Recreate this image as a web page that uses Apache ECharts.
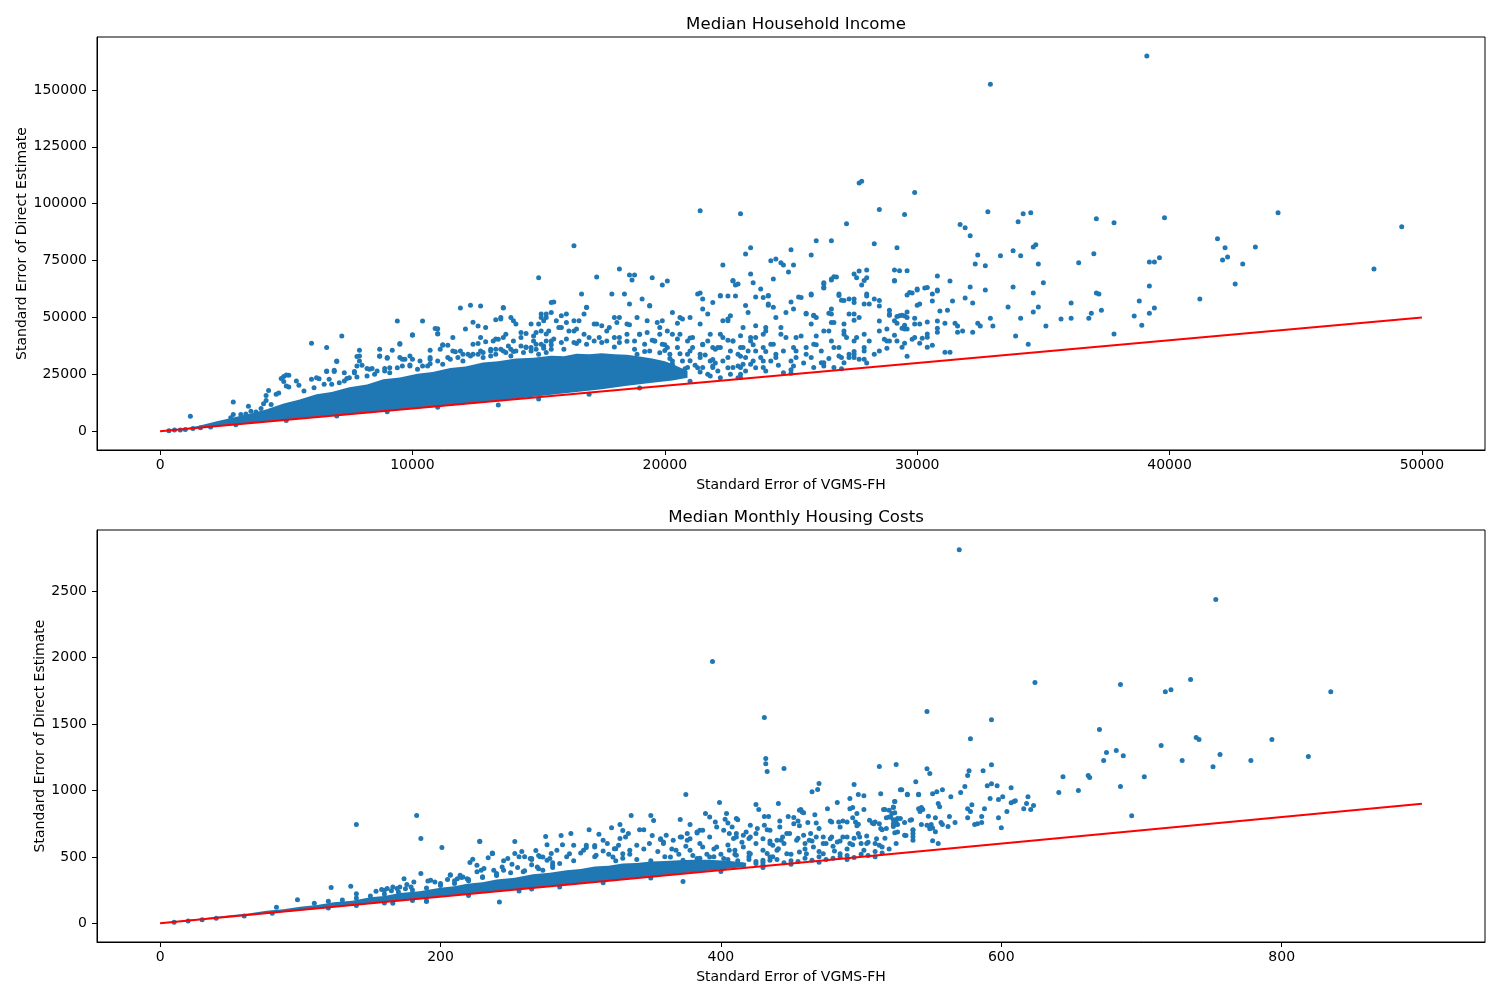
<!DOCTYPE html>
<html><head><meta charset="utf-8">
<script src="https://cdn.jsdelivr.net/npm/echarts@6/dist/echarts.min.js"></script>
<style>html,body{margin:0;padding:0;background:#fff}#c{width:1500px;height:1000px}</style>
</head><body><div id="c"></div>
<script>
// ---------- Chart 1: Median Household Income ----------
const incomeXTicks = [0, 10000, 20000, 30000, 40000, 50000];
const incomeYTicks = [0, 25000, 50000, 75000, 100000, 125000, 150000];
const incomeLine = [[0, 0], [50000, 50000]];
// solid dense core (upper boundary then lower boundary)
const incomeCoreUpper = [[800,900],[1500,2300],[2250,4400],[2900,6000],[3600,7800],[4200,9500],[4900,12200],[5500,13800],[6200,16200],[6800,17200],[7500,19300],[8200,20500],[8850,22800],[9500,23600],[10200,25300],[10800,26000],[11500,27800],[12100,28500],[12800,30200],[13400,30800],[14100,32000],[14800,32300],[15500,33200],[16000,33000],[16500,34000],[17000,33800],[17500,34300],[18000,33800],[18500,33600],[19000,32800],[19500,32000],[20000,30800],[20300,29500],[20900,26500]];
const incomeCoreLower = [[20900,23500],[20300,22300],[19500,21300],[18500,20000],[17500,18500],[16500,17200],[15500,16000],[14100,14300],[12800,12600],[11500,11300],[10200,10000],[8850,8700],[7500,7400],[6200,6100],[4900,4800],[3600,3500],[2250,2150],[1500,1400],[800,700]];
const incomePoints = [
[28500,97400],[39100,164900],[32900,152500],[29900,104900],[29500,95200],[32800,96500],[31700,90800],[31900,89400],[32100,85900],[34000,92100],[34200,95600],[34500,96000],[29200,80600],[37100,93400],[37800,91600],[39800,93800],[44300,96000],[49200,89900],[41900,84600],[42200,80600],[42100,75300],[42300,76600],[43400,81000],[42900,73500],[42600,64700],[48100,71300],[41200,58100],[39200,74400],[39400,74400],[39600,76200],[39200,63800],[38800,57200],[39400,54100],[39200,51900],[38600,50600],[38900,46600],[37800,42700],[37000,78000],[36400,74000],[37100,60800],[37200,60300],[37300,53200],[36900,51900],[36800,49700],[36100,56300],[36100,49700],[35700,49300],[35100,46200],[34800,73500],[34600,81000],[34700,81900],[35000,65200],[34600,60800],[34800,54600],[34600,52400],[34400,38200],[33900,41800],[34100,49700],[33800,63400],[33800,79300],[34100,77100],[33300,77100],[33600,54600],[33000,46200],[32900,49700],[32700,62100],[32700,72700],[32300,73500],[32400,77500],[32100,63400],[32200,56300],[31900,58500],[32200,43500],[32400,47500],[32500,46200],[31300,66000],[31400,57200],[31200,53200],[30900,52800],[31100,47500],[31500,47500],[31600,46200],[31600,43500],[31800,44000],[31100,34700],[31300,34700],[30800,68200],[30800,62100],[30800,61600],[30600,60300],[30600,57200],[30300,62900],[30000,62100],[29800,60800],[29600,59900],[30000,55400],[29900,49700],[29600,52400],[30100,47100],[30400,48000],[30800,48400],[30800,45300],[30800,43500],[30400,42700],[30400,41300],[30200,40900],[30100,38700],[30600,37800],[30400,36900],[29800,40400],[29600,44900],[29500,46600],[29400,45300],[29200,47500],[29200,50400],[29400,51000],[29500,50600],[28900,53200],[28900,51000],[28500,55000],[28800,44900],[29100,42200],[29200,39600],[29500,38700],[29400,36900],[29600,32900],[28800,36500],[28700,40400],[29100,70900],[29300,70500],[29600,70500],[29100,66000],[28500,48400],
[27700,109100],[27800,109900],[21400,96900],[23000,95600],[27200,91200],[26000,83700],[26600,83700],[28300,82400],[16400,81500],[23400,80600],[23200,77900],[25000,79700],[25800,77500],[24200,74900],[24400,75700],[24600,74000],[24700,73100],[25100,73100],[24900,70000],[22300,73100],[23400,69100],[24300,66900],[15000,67400],[18200,71300],[18600,68700],[18800,68700],[18700,66500],[17300,67800],[19500,67400],[20100,66000],[19900,64300],[22700,66000],[22800,64300],[23500,65200],[23800,62500],[27500,69100],[27700,70400],[28000,70900],[27600,67400],[28000,67400],[27800,64300],[26300,65200],[26300,62900],[26600,66500],[26800,67800],[25800,59900],[25300,59000],[16700,60300],[17900,60300],[18400,60300],[19100,58100],[19400,55000],[15600,56800],[16900,54500],[13600,54100],[12700,55000],[21400,60700],[21500,58100],[22200,59400],[22500,59400],[22800,59400],[23600,59000],[24100,59400],[25000,56800],[24100,55400],[24300,54500],[26900,60300],[27000,57600],[27300,58100],[27500,58100],[28000,59400],[28300,58100],[28100,55900],[27900,55900],[26600,53700],[26500,51900],[25900,51000],[26000,50000],[25600,51900],[27300,51500],[27500,48800],[27700,50000],[27100,47100],[26600,47800],[26300,44100],[27100,42600],[27200,41200],[27600,41200],[27900,36800],[26900,33100],[27700,31600],[26300,28700],[25900,38200],[25200,41200],[25200,32400],[26200,30100],[25100,36800],[24600,42600],[24300,38200],[24400,33800],[24000,45600],[23600,41200],[23900,28000],[24700,25700],[23300,35300],[23100,45600],[22700,39700],[23000,25000],[22500,48500],[22200,42600],[21900,36800],[21800,24300],[21400,47100],[21100,41200],[20900,33800],[20600,50000],[20300,42600],[20100,36800],[19800,45600],[19600,39700],[19300,48500],[19000,42600],[18900,33800],[18500,47100],[18200,41200],[18000,50000],[17700,44100],[17300,47100],[17000,41200],[16600,48500],[16400,44100],[16100,51500],[15900,45600],[15300,50000],[15100,44100],[14700,47100],[14300,41200],[14000,48500],[13700,42600],[13500,50000],[13200,39700],[12900,45600],[12700,41200],
[20900,28000],[21400,33800],[21900,28000],[22500,32400],[22700,28000],[23500,30900],[23900,36800],[24200,30900],[25000,30900],[25600,33800],[25900,28000],[26700,36800],[27300,33800],[28100,39700],[28500,44100],[28300,33800],[28800,39700],[29100,48500],[26700,28000],[20300,30900],[20100,24900],[19600,28000],[19300,23500],[21100,36800],[21700,39700],[22200,36800],[23000,36800],[23400,39700],
[13500,36000],[14500,37000],[15500,38000],[16500,38500],[17500,39000],[18500,39500],[19500,40000],[20500,40500],[14000,35000],[16000,36000],[18000,37000],[20000,38000],[21500,38000],[21000,41000],[22000,36000],[22500,40000],[23000,33000],[23500,38000],[24000,35000],[22000,30000],[21500,28000],[23000,28000],[24500,29000],[25500,30000],[26500,32000],[27500,35000],[28000,30000],[25000,27000],[26000,38000],[24000,44000],[23000,42000],
[1200,6600],[2900,12800],[2900,7400],[3500,11000],[4100,12100],[4300,17900],[4200,15700],[4800,23200],[5100,24600],[5100,19400],[4700,16800],[5500,20200],[6000,38700],[6000,22800],[6300,23100],[6600,36800],[6600,26200],[7000,30900],[6900,26800],[7200,41800],[7300,25700],[7700,25700],[7800,32800],[7900,35600],[7900,30900],[8000,29000],[8400,27600],[8700,32900],[8700,36000],[9000,32100],[9200,35600],[9400,48400],[9500,38200],[9500,32400],[9700,31600],[10000,42200],[10000,31600],[10400,48400],[10300,30900],[10700,35600],[11000,45000],[11000,42900],[11200,37800],[11400,37800],[11600,41200],[11600,35300],[11900,54100],[12300,55400],[12100,44900],[12400,47900],[12600,46200],[12400,38200],[12600,38500],[12900,39300],[13300,49000],[13300,40500],[10700,32400],[11400,32400],[12000,33800],[12700,35300],[13100,36000],[5700,17700],[6100,19100],[6800,20600],[7300,22100],[7500,23500],[8500,25000],[8900,26500],[9100,27900],[9900,28700],[10600,28700],[11000,30900],[11800,32400],[12400,33800],
[350,200],[570,500],[800,500],[1000,800],[1300,1200],[1600,1500],[2000,1900],
[13400,11500],[15000,14200],[17000,16200],[19000,19000],[21000,22000],[23000,23500],[25000,25500],[27000,27500],[3000,2800],[5000,4700],[7000,6700],[9000,8600],[11000,10500]
];
const incomeFringe = [
[4900,24100],[5000,24700],[5400,22100],[4900,21800],[5000,19900],[4600,16200],[4200,13500],[4400,11800],[4000,10000],[3600,8800],[3200,7400],[2800,5900],[3400,7600],[3800,8500],
[7000,30600],[6600,26500],[6900,26200],[7700,26200],[7900,33100],[7800,28700],[8200,27600],[8300,27200],[8700,33100],[9000,32400],[9500,38500],[9600,31600],[9900,33100],[10000,42400],[10700,31600],[10900,45200],[11000,42700],[11100,36000],[11200,38000],[11700,34900],[13600,54400],[13500,49300],[13900,50000],[14100,47100],[13400,40400],[13600,41200],[13800,37500],[14000,39700],[14300,43400],[14500,43000],[14800,41900],[15000,47100],[15100,50000],[15300,51500],[14900,38200],[15200,37500],[14300,37500],[13100,35300],[13300,36000],[13700,34600],[11900,35300],[12200,33800],[12800,34600],[13900,33100],[14500,36800],[14700,35300],[15000,33800],[15300,34600],
[6200,23500],[6500,20600],[6700,22800],[7100,21300],[7400,23200],[7800,23800],[8200,24300],[8600,26500],[8900,27600],[9100,25700],[9400,27900],[9600,28700],[9900,29100],[10200,27200],[10400,28700],[10700,29700],[11200,29400],[11500,31600],[12000,30900],[12300,33100],[12600,33800],[12800,32400],[13100,33100],[13300,33800],[13600,35300],[13900,36000],[14100,35300],[14400,34600],[14700,36800],[14900,36000],[15200,36500],[15500,36000],[15500,39700],[15300,42700],
[15500,56600],[18600,55900],[19400,55200],[16800,51500],[16900,54400],[15100,51500],[15500,52200],[15900,50700],[16100,47800],[16400,48500],[15200,48500],[15700,48500],[14900,43400],[15400,44100],[15800,45600],[16200,44100],[16500,44900],[16800,42600],[17200,47100],[17500,46300],[17800,45600],[18100,47800],[18200,50000],[18600,46800],[18900,50000],[19300,43400],[19700,47800],[19900,48500],[20300,52200],[20100,44100],[20500,47400],[20700,49300],[21000,50000],[21300,60300],[21500,53700],[21700,51500],[21900,56600],[22200,59600],[22300,48500],[22500,49300],[22600,50700],[22700,66200],[22900,64700],[23200,55200],[23300,52200],[23900,58800],[24100,59600],[24100,55900],[24400,50000],[24800,52200],[24600,45600],[24800,41200],[25100,53700],[25400,58800],[25800,60300],[25600,51500],[25900,50700],[25800,47100],[26300,64700],[26300,63200],[26600,66900],[26700,67900],[26600,51500],[26700,47800],[26900,59600],[27100,57400],[27500,51500],[27500,56600],[27900,66200],[28000,60300],[28500,57400],[29100,66200],[29700,61000],[30000,62500],[30400,63200],[30100,55900],[28900,51500],[29300,50700],[29600,50000],[29500,44900],[29900,41200],[29900,47100],[28900,39700],[28500,35300],[27900,35300],[27900,42600],[27500,39700],[27100,44100],[26900,36800],[27300,32400],[26600,39700],[26500,44100],[26000,41900],[26200,35300],[25600,36800],[25400,41900],[25200,35300],[25800,32400],[26300,30100],[27000,32400],[27100,30100],[27500,32400],[27900,31600],[27500,33800],[25100,28700],[24400,32400],[24700,35300],[24200,38200],[23900,42600],[23600,46300],[23400,41200],[23100,36800],[23200,32400],[23600,35300],[23900,30900],[24000,26500],[23600,27900],[23100,29400],[22900,33800],[22700,39700],[22300,41200],[22100,36800],[21800,42600],[21500,38200],[21400,32400],[21800,30900],[22100,26500],[22300,30900],[22600,35300],[21300,27900],[21000,35300],[20900,39700],[20600,42600],[20500,36800],[20700,30900],[20300,29400],[20200,33800],[19900,38200],[19800,42600],[19600,39700],[19400,35300],[19200,38200],[19000,42600],[18800,39700],[18500,42600],[18200,39000],[18000,41200],[17700,39700],[17400,41200],[17200,39700],[16900,38200],[16600,39700],[16400,39000],[16100,40500],[15900,39000],[15600,40500],[15300,39700],[15100,38200],[14800,39700],
[22900,23500],[23200,26500],[22600,25000],[22200,23500],[21700,25000],[21900,28700],[22500,27900],[22900,28700],[23400,29400],[23800,32400],
[19800,34500],[20200,32000],[20600,34000],[21000,31000],[21200,29000],[21600,33500],[21900,31500],[20800,27500],[21400,26000],[20000,35500],[19200,35000],[18800,36000]
];

// ---------- Chart 2: Median Monthly Housing Costs ----------
const housingXTicks = [0, 200, 400, 600, 800];
const housingYTicks = [0, 500, 1000, 1500, 2000, 2500];
const housingLine = [[0, 0], [900, 900]];
const housingCoreUpper = [[0,2],[25,30],[50,60],[63,74],[76,95],[88,106],[100,125],[112,138],[124,158],[137,170],[150,195],[160,205],[171,228],[185,242],[200,268],[210,278],[219,298],[230,308],[240,330],[253,342],[266,370],[278,380],[290,400],[300,408],[310,428],[320,434],[330,450],[340,453],[350,465],[360,468],[370,475],[380,478],[390,478],[405,470],[418,455]];
const housingCoreLower = [[418,425],[400,405],[350,352],[300,300],[250,250],[200,198],[150,147],[100,97],[50,48],[0,0]];
const housingPoints = [
[570,2813],[753,2437],[624,1812],[685,1797],[717,1744],[721,1759],[735,1835],[835,1744],[547,1594],[593,1533],[578,1390],[670,1458],[675,1285],[682,1300],[673,1225],[687,1262],[714,1338],[739,1398],[741,1383],[793,1383],[729,1225],[756,1270],[751,1179],[778,1225],[819,1255],[702,1104],[685,1029],[693,810],[644,1104],[641,984],[655,999],[662,1112],[663,1097],[547,1164],[549,1127],[577,1149],[576,1112],[587,1149],[593,1194],[590,1036],[593,1051],[597,1036],[607,1021],[574,1029],[571,984],[579,893],[576,863],[578,841],[576,795],[581,743],[583,750],[586,758],[586,803],[588,863],[592,939],[598,931],[601,953],[604,841],[598,795],[600,720],[607,908],[609,916],[610,923],[616,863],[618,901],[619,953],[621,856],[623,886],[564,953],[558,1006],[554,991],[551,976],[539,1066],[529,1006],[533,968],[541,968],[555,901],[556,878],[553,795],[563,803],[557,758],[558,743],[562,728],[567,758],[553,690],[550,743],[549,728],[551,718],[549,712],[551,622],[555,600],[543,743],[542,841],[544,856],[541,863],[543,871],[536,780],[537,705],[537,652],[537,675],[532,660],[531,758],[524,682],[524,916],[523,871],[524,833],[521,800],[523,780],[523,728],[526,788],[526,743],[525,750],[516,856],[515,705],[513,750],
[394,1970],[431,1549],[432,1240],[432,1202],[433,1142],[445,1165],[513,1180],[525,1195],[375,969],[399,909],[465,991],[469,1007],[470,1052],[495,1044],[498,969],[502,961],[514,976],[492,939],[483,909],[524,916],[441,901],[425,894],[427,856],[431,803],[434,803],[452,796],[448,803],[457,856],[459,833],[476,863],[467,818],[492,863],[494,871],[502,856],[497,826],[496,763],[497,735],[508,755],[510,763],[517,856],[522,826],[520,801],[525,776],[524,743],[526,688],[517,640],[515,575],[514,713],[498,675],[504,658],[494,592],[490,650],[485,725],[479,763],[484,763],[479,650],[481,545],[473,650],[470,713],[464,675],[460,600],[466,575],[456,537],[462,758],[456,735],[452,750],[447,675],[442,725],[443,625],[437,588],[433,525],[430,474],[437,500],[435,700],[431,738],[426,713],[420,638],[418,688],[421,738],[411,675],[409,638],[411,788],[404,826],[403,783],[405,755],[392,801],[389,826],[396,763],[383,680],[385,700],[378,743],[371,781],[371,650],[376,625],[352,773],[350,811],[336,811],[342,705],[345,705],[351,660],[357,630],[359,612],[328,743],[322,720],[330,698],[334,675],[328,638],[313,670],[310,585],[293,675],[286,660],[275,653],[276,592],[287,592],[253,615],[258,540],[268,547],[248,487],[237,525],[228,615],[253,525],[279,525],[304,570],[316,545],[325,562],[373,314],[316,306],[285,274],[256,243],
[245,470],[260,500],[265,480],[270,510],[280,455],[290,500],[295,470],[300,530],[310,500],[320,520],[335,520],[345,560],[355,540],[365,560],[375,580],[385,600],[395,560],[405,590],[415,610],[425,600],[435,620],[445,600],[455,640],[465,620],[475,600],[485,620],[495,640],[505,610],[440,550],[450,520],[460,560],[470,540],[480,580],[490,560],[500,600],[420,530],[410,520],[390,520],[380,510],[430,460],[440,480],[450,470],[460,490],[470,500],[480,490],[490,510],[500,520],[510,540],[520,560],[510,600],[430,440],[425,450],[445,455],[455,465],[465,475],[475,480],[485,500],[495,495],[505,510],[515,530],[420,500],[360,500],[370,520],[340,480],[330,490],[325,470],[350,470],[400,520],[410,550],[395,500],[385,490],
[110,150],[120,165],[130,175],[140,190],[150,205],[160,220],[170,235],[180,250],[190,265],[200,285],[210,300],[220,320],[230,345],[240,360],[205,330],[215,345],[175,260],[165,245],
[140,743],[183,811],[186,638],[201,570],[228,617],[221,457],[223,482],[234,494],[237,525],[122,269],[136,279],[98,178],[174,336],[186,374],[140,223],[154,241],[83,120],[226,437],[231,412],[240,374],[214,361],[207,361],[193,324],[179,274],[169,261],[160,249],[219,336],
[10,8],[20,18],[30,27],[40,37],[60,55],[80,76],[120,115],[140,133],[160,152],[180,172],[350,340],[400,390],[430,420],[450,445],[470,460],[490,480],[510,500],[220,210],[265,258],[166,150],[190,170]
];
const housingFringe = [
[158,254],[162,261],[166,274],[171,274],[176,291],[181,311],[191,319],[196,311],[200,299],[207,366],[212,336],[216,349],[226,387],[229,399],[237,530],[238,399],[244,424],[251,444],[256,500],[265,487],[271,500],[276,474],[280,437],[273,399],[259,387],[242,161],[190,163],[210,320],[220,330],[230,350],[240,365],[250,380],[260,395],[270,410],[245,400],[255,420],[265,440],[280,420],[285,450],
[528,1006],[533,971],[541,971],[456,851],[458,838],[523,876],[520,851],[518,795],[408,725],[412,780],[433,705],[442,770],[455,770],[468,755],[478,770],[487,770],[490,763],[494,795],[498,745],[506,775],[509,750],[518,713],[523,750],[528,788],[535,775],[537,700],[531,662],[547,738],[548,805],[306,705],[316,625],[310,575],[319,600],[324,562],[327,587],[332,650],[357,637],[361,662],[366,625],[372,650],[376,675],[378,637],[383,688],[387,700],[392,650],[397,725],[402,700],[406,675],[411,650],[416,662],[421,650],[425,675],[430,637],[435,600],[440,625],[444,650],[449,675],[454,625],[459,662],[463,625],[468,650],[473,600],[478,637],[483,612],[487,650],[492,600],[499,650],[504,600],[511,637],[473,524],[461,524],[435,499],[447,524],[416,575],[406,549],[397,575],[387,575],[378,549],[368,549],[359,600],[349,600],[340,587],[335,549],[330,524],[323,499],[311,512],[302,549],[292,524],[283,549],[273,499],[295,587],[304,587],[278,487],[264,487],[269,424],[364,499],[373,474],[383,487],[392,499],[402,487],[411,512],[421,524],[430,549],[441,562],[364,386],[485,524],[502,549],[513,587],[525,600],[537,625],
[412,470],[420,480],[415,440],[425,465],[435,475],[405,480]
];

const BLUE = '#1f77b4';
const FONT = 'DejaVu Sans';

function corePolygon(upper, lower, idx) {
  const pts = upper.concat(lower);
  return {
    type: 'custom', xAxisIndex: idx, yAxisIndex: idx, silent: true, clip: true, z: 1,
    data: [pts[0]],
    renderItem: function (params, api) {
      return { type: 'polygon', shape: { points: pts.map(p => api.coord(p)) }, style: { fill: BLUE } };
    }
  };
}

function makeX(idx, min, max, ticks) {
  return {
    gridIndex: idx, type: 'value', min: min, max: max,
    name: 'Standard Error of VGMS-FH', nameLocation: 'middle', nameGap: 28,
    nameTextStyle: { color: '#000', fontSize: 14, fontFamily: FONT },
    axisLine: { show: true, onZero: false, lineStyle: { color: '#000', width: 1 } },
    axisTick: { show: true, length: 5, lineStyle: { color: '#000', width: 1 }, customValues: ticks },
    axisLabel: { color: '#000', fontSize: 14, fontFamily: FONT, margin: 8, customValues: ticks, formatter: v => String(v) },
    splitLine: { show: false }
  };
}
function makeY(idx, min, max, ticks, gap) {
  return {
    gridIndex: idx, type: 'value', min: min, max: max,
    name: 'Standard Error of Direct Estimate', nameLocation: 'middle', nameGap: gap, nameMoveOverlap: false,
    nameTextStyle: { color: '#000', fontSize: 14, fontFamily: FONT },
    axisLine: { show: true, onZero: false, lineStyle: { color: '#000', width: 1 } },
    axisTick: { show: true, length: 5, lineStyle: { color: '#000', width: 1 }, customValues: ticks },
    axisLabel: { color: '#000', fontSize: 14, fontFamily: FONT, margin: 10, customValues: ticks, formatter: v => String(v) },
    splitLine: { show: false }
  };
}
function scatter(idx, data) {
  return { type: 'scatter', xAxisIndex: idx, yAxisIndex: idx, data: data, symbolSize: 5, itemStyle: { color: BLUE, opacity: 1 }, z: 2, silent: true };
}
function refLine(idx, data) {
  return { type: 'line', xAxisIndex: idx, yAxisIndex: idx, data: data, symbol: 'none', lineStyle: { color: '#ff0000', width: 2 }, z: 5, silent: true };
}

const chart = echarts.init(document.getElementById('c'), null, { renderer: 'canvas' });
chart.setOption({
  animation: false,
  backgroundColor: '#fff',
  textStyle: { fontFamily: FONT },
  title: [
    { text: 'Median Household Income', left: 791, top: 11, textAlign: 'center', textStyle: { fontSize: 16.6, fontWeight: 'normal', color: '#000', fontFamily: FONT } },
    { text: 'Median Monthly Housing Costs', left: 791, top: 504, textAlign: 'center', textStyle: { fontSize: 16.6, fontWeight: 'normal', color: '#000', fontFamily: FONT } }
  ],
  grid: [
    { left: 97, right: 15, top: 37, height: 413, show: true, borderColor: '#000', borderWidth: 1, backgroundColor: 'transparent' },
    { left: 97, right: 15, top: 530, height: 412, show: true, borderColor: '#000', borderWidth: 1, backgroundColor: 'transparent' }
  ],
  xAxis: [makeX(0, -2500, 52500, incomeXTicks), makeX(1, -45, 945, housingXTicks)],
  yAxis: [makeY(0, -8250, 173250, incomeYTicks, 68), makeY(1, -141, 2961, housingYTicks, 50)],
  series: [
    corePolygon(incomeCoreUpper, incomeCoreLower, 0),
    scatter(0, incomePoints.concat(incomeFringe)),
    refLine(0, incomeLine),
    corePolygon(housingCoreUpper, housingCoreLower, 1),
    scatter(1, housingPoints.concat(housingFringe)),
    refLine(1, housingLine)
  ]
});
</script>
</body></html>
